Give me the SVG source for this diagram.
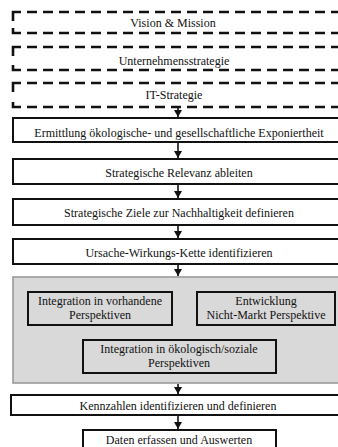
<svg xmlns="http://www.w3.org/2000/svg" width="338" height="447" viewBox="0 0 338 447">
<defs>
<style>
.t{font-family:"Liberation Serif","Times New Roman",serif;font-size:12px;fill:#111;text-anchor:middle}
.box{fill:#fff;stroke:#111;stroke-width:2}
.dash{fill:none;stroke:#111;stroke-width:2.6;stroke-dasharray:10 6}
.corner{fill:none;stroke:#111;stroke-width:2.6}
.grp{fill:#d9d9d9;stroke:#9a9a9a;stroke-width:1.6}
.ibox{fill:#d9d9d9;stroke:#111;stroke-width:2}
.conn{stroke:#111;stroke-width:1.6;fill:none}
</style>
<marker id="ah" markerUnits="userSpaceOnUse" markerWidth="7" markerHeight="8" refX="7" refY="4" orient="auto" viewBox="0 0 7 8">
<path d="M0,0 L7,4 L0,8 z" fill="#111"/>
</marker>
</defs>
<rect width="338" height="447" fill="#fff"/>

<g id="vision">
<path class="corner" d="M13,21 L13,12 L21,12"/>
<path class="dash" d="M27,12 L345,12"/>
<path class="corner" d="M13,28 L13,33 L21,33"/>
<path class="dash" d="M27,33 L345,33"/>
<text class="t" x="173" y="27">Vision &amp; Mission</text>
</g>
<g id="unternehmensstrategie">
<path class="corner" d="M13,56 L13,47 L21,47"/>
<path class="dash" d="M27,47 L345,47"/>
<path class="corner" d="M13,65 L13,70 L21,70"/>
<path class="dash" d="M27,70 L345,70"/>
<text class="t" x="174" y="65">Unternehmensstrategie</text>
</g>
<g id="it-strategie">
<path class="corner" d="M13,92 L13,83 L21,83"/>
<path class="dash" d="M27,83 L345,83"/>
<path class="corner" d="M13,102 L13,107 L21,107"/>
<path class="dash" d="M27,107 L345,107"/>
<text class="t" x="174" y="99">IT-Strategie</text>
</g>
<g id="ermittlung">
<rect class="box" x="13" y="118" width="332" height="24"/>
<text class="t" x="179" y="137">Ermittlung ökologische- und gesellschaftliche Exponiertheit</text>
</g>
<g id="relevanz">
<rect class="box" x="13" y="159" width="332" height="25"/>
<text class="t" x="179" y="177">Strategische Relevanz ableiten</text>
</g>
<g id="ziele">
<rect class="box" x="13" y="199" width="332" height="26"/>
<text class="t" x="179" y="217">Strategische Ziele zur Nachhaltigkeit definieren</text>
</g>
<g id="ursache">
<rect class="box" x="13" y="239" width="332" height="25"/>
<text class="t" x="179" y="257">Ursache-Wirkungs-Kette identifizieren</text>
</g>
<g id="perspektiven">
<rect class="grp" x="13" y="277" width="332" height="106"/>
<g id="vorhandene">
<rect class="ibox" x="28" y="292" width="144" height="33"/>
<text class="t" x="100" y="305">Integration in vorhandene</text>
<text class="t" x="100" y="319">Perspektiven</text>
</g>
<g id="nichtmarkt">
<rect class="ibox" x="197" y="292" width="138" height="33"/>
<text class="t" x="266" y="305">Entwicklung</text>
<text class="t" x="266" y="319">Nicht-Markt Perspektive</text>
</g>
<g id="oekosozial">
<rect class="ibox" x="83" y="340" width="193" height="33"/>
<text class="t" x="179" y="353">Integration in ökologisch/soziale</text>
<text class="t" x="179" y="367">Perspektiven</text>
</g>
</g>
<g id="kennzahlen">
<rect class="box" x="11" y="395" width="334" height="20"/>
<text class="t" x="178" y="410">Kennzahlen identifizieren und definieren</text>
</g>
<g id="daten">
<rect class="box" x="83" y="430" width="193" height="26"/>
<text class="t" x="179" y="444">Daten erfassen und Auswerten</text>
</g>

<g id="connectors">
<line class="conn" x1="178" y1="108" x2="178" y2="117" marker-end="url(#ah)"/>
<line class="conn" x1="178" y1="143" x2="178" y2="158" marker-end="url(#ah)"/>
<line class="conn" x1="178" y1="185" x2="178" y2="198" marker-end="url(#ah)"/>
<line class="conn" x1="178" y1="226" x2="178" y2="238" marker-end="url(#ah)"/>
<line class="conn" x1="178" y1="265" x2="178" y2="276" marker-end="url(#ah)"/>
<line class="conn" x1="178" y1="384" x2="178" y2="394" marker-end="url(#ah)"/>
<line class="conn" x1="178" y1="416" x2="178" y2="429" marker-end="url(#ah)"/>
</g>
</svg>
